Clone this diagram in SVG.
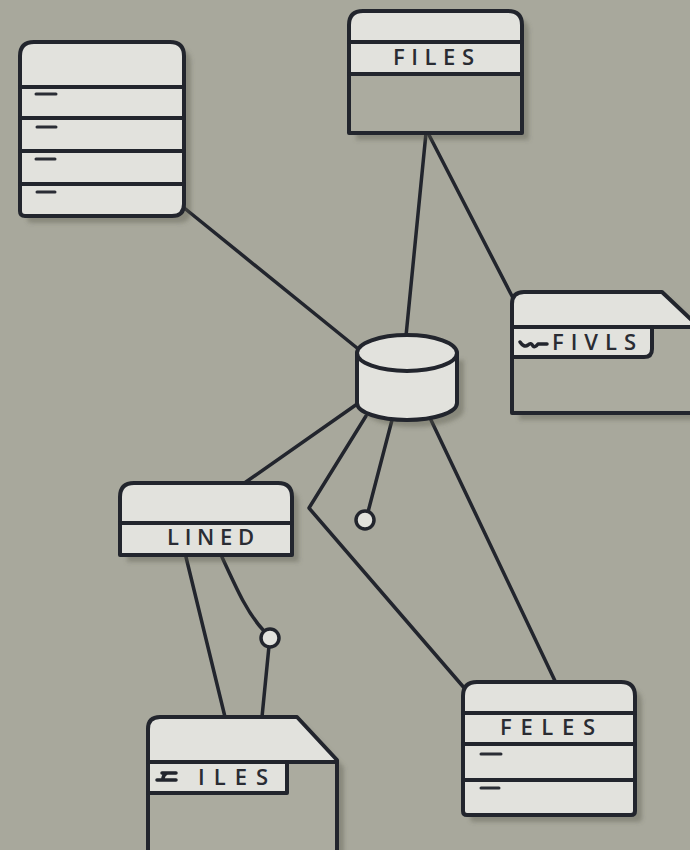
<svg xmlns="http://www.w3.org/2000/svg" width="690" height="850" viewBox="0 0 690 850">
  <defs>
    <filter id="shadow" x="-10%" y="-10%" width="130%" height="130%">
      <feDropShadow dx="7" dy="7" stdDeviation="2" flood-color="#56564c" flood-opacity="0.4"/>
    </filter>
    <style>
      .bg { fill: #a8a89c; }
      .light { fill: #e2e2dd; }
      .panel { fill: #abab9f; }
      .edge { fill: none; stroke: #22252d; stroke-width: 4; stroke-linejoin: round; stroke-linecap: round; }
      .wire { fill: none; stroke: #22252d; stroke-width: 3.5; stroke-linecap: round; stroke-linejoin: round; }
      .dot { fill: #e2e2dd; stroke: #22252d; stroke-width: 3.5; }
      .dash { stroke: #2a2d35; stroke-width: 3; stroke-linecap: round; }
      .label { font-family: "Open Sans", "Liberation Sans", sans-serif; font-size: 22px; font-weight: 600; fill: #2a2c33; }
    </style>
  </defs>

  <rect class="bg" x="0" y="0" width="690" height="850"/>

  <!-- connectors -->
  <g id="connectors">
    <line class="wire" x1="183" y1="207" x2="362" y2="352"/>
    <line class="wire" x1="426" y1="133" x2="406" y2="336"/>
    <line class="wire" x1="428" y1="133" x2="513" y2="298"/>
    <line class="wire" x1="360" y1="402" x2="243" y2="484"/>
    <polyline class="wire" points="366,416 309,508 466,690"/>
    <line class="wire" x1="392" y1="420" x2="368" y2="512"/>
    <line class="wire" x1="431" y1="420" x2="556" y2="683"/>
    <line class="wire" x1="186" y1="557" x2="225" y2="717"/>
    <path class="wire" d="M222,557 C238,592 248,614 264,631"/>
    <line class="wire" x1="269" y1="646" x2="262" y2="717"/>
    <circle class="dot" cx="365" cy="520" r="9"/>
    <circle class="dot" cx="270" cy="638" r="9"/>
  </g>

  <!-- list table, top left -->
  <g id="list-table">
    <path class="light" filter="url(#shadow)" d="M20,56 Q20,42 34,42 L170,42 Q184,42 184,56 L184,204 Q184,216 172,216 L25,216 Q20,216 20,211 Z"/>
    <path class="edge" d="M20,56 Q20,42 34,42 L170,42 Q184,42 184,56 L184,204 Q184,216 172,216 L25,216 Q20,216 20,211 Z"/>
    <line class="edge" x1="20" y1="87" x2="184" y2="87"/>
    <line class="edge" x1="20" y1="118" x2="184" y2="118"/>
    <line class="edge" x1="20" y1="151" x2="184" y2="151"/>
    <line class="edge" x1="20" y1="184" x2="184" y2="184"/>
    <line class="dash" x1="36" y1="94" x2="56" y2="94"/>
    <line class="dash" x1="37" y1="127" x2="56" y2="127"/>
    <line class="dash" x1="36" y1="159" x2="55" y2="159"/>
    <line class="dash" x1="37" y1="192" x2="55" y2="192"/>
  </g>

  <!-- FILES table, top -->
  <g id="files-table">
    <path class="panel" filter="url(#shadow)" d="M349,133 L349,25 Q349,11 363,11 L508,11 Q522,11 522,25 L522,133 Z"/>
    <path class="light" d="M349,74 L349,25 Q349,11 363,11 L508,11 Q522,11 522,25 L522,74 Z"/>
    <path class="edge" d="M349,133 L349,25 Q349,11 363,11 L508,11 Q522,11 522,25 L522,133 Z"/>
    <line class="edge" x1="349" y1="42" x2="522" y2="42"/>
    <line class="edge" x1="349" y1="74" x2="522" y2="74"/>
    <text class="label" x="393" y="65" textLength="81" lengthAdjust="spacing">FILES</text>
  </g>

  <!-- FIVLS folder, right -->
  <g id="fivls-folder">
    <path class="panel" filter="url(#shadow)" d="M512,304 Q512,292 524,292 L662,292 L700,328 L700,413 L512,413 Z"/>
    <path class="light" d="M512,327 L512,304 Q512,292 524,292 L662,292 L697,327 Z"/>
    <path class="light" d="M512,327 L652,327 L652,349 Q652,357 644,357 L512,357 Z"/>
    <path class="edge" d="M700,413 L512,413 L512,304 Q512,292 524,292 L662,292 L700,328"/>
    <line class="edge" x1="512" y1="327" x2="700" y2="327"/>
    <path class="edge" d="M652,327 L652,349 Q652,357 644,357 L512,357"/>
    <path class="wire" stroke-width="2.5" d="M520,342 Q524,348 528,345 Q531,342 533,346 Q535,348 538,344 L547,344"/>
    <text class="label" x="552" y="350" textLength="84" lengthAdjust="spacing">FIVLS</text>
  </g>

  <!-- central store -->
  <g id="store">
    <path class="light" filter="url(#shadow)" d="M357,353 L357,403 A50,17 0 0 0 457,403 L457,353 Z"/>
    <path class="edge" d="M357,353 L357,403 A50,17 0 0 0 457,403 L457,353"/>
    <ellipse class="light" cx="407" cy="353" rx="50" ry="18"/>
    <ellipse class="edge" cx="407" cy="353" rx="50" ry="18"/>
  </g>

  <!-- LINED table -->
  <g id="lined-table">
    <path class="light" filter="url(#shadow)" d="M120,555 L120,497 Q120,483 134,483 L278,483 Q292,483 292,497 L292,555 Z"/>
    <path class="edge" d="M120,555 L120,497 Q120,483 134,483 L278,483 Q292,483 292,497 L292,555 Z"/>
    <line class="edge" x1="120" y1="523" x2="292" y2="523"/>
    <text class="label" x="167" y="545" textLength="87" lengthAdjust="spacing">LINED</text>
  </g>

  <!-- ILES folder, bottom -->
  <g id="iles-folder">
    <path class="panel" filter="url(#shadow)" d="M148,729 Q148,717 160,717 L297,717 L337,760 L337,860 L148,860 Z"/>
    <path class="light" d="M148,762 L148,729 Q148,717 160,717 L297,717 L337,760 L337,762 Z"/>
    <rect class="light" x="148" y="762" width="139" height="31"/>
    <path class="edge" d="M148,860 L148,729 Q148,717 160,717 L297,717 L337,760 L337,860"/>
    <line class="edge" x1="148" y1="762" x2="337" y2="762"/>
    <path class="edge" d="M287,762 L287,793 L148,793"/>
    <path class="wire" stroke-width="2.5" d="M157,780 L176,780 M162,773 L176,773 M167,773 Q164,774 163,778 L163,780"/>
    <text class="label" x="198" y="785" textLength="70" lengthAdjust="spacing">ILES</text>
  </g>

  <!-- FELES table -->
  <g id="feles-table">
    <path class="light" filter="url(#shadow)" d="M463,811 L463,696 Q463,682 477,682 L621,682 Q635,682 635,696 L635,811 Q635,815 631,815 L467,815 Q463,815 463,811 Z"/>
    <path class="edge" d="M463,811 L463,696 Q463,682 477,682 L621,682 Q635,682 635,696 L635,811 Q635,815 631,815 L467,815 Q463,815 463,811 Z"/>
    <line class="edge" x1="463" y1="713" x2="635" y2="713"/>
    <line class="edge" x1="463" y1="744" x2="635" y2="744"/>
    <line class="edge" x1="463" y1="780" x2="635" y2="780"/>
    <line class="dash" x1="481" y1="754" x2="501" y2="754"/>
    <line class="dash" x1="481" y1="788" x2="499" y2="788"/>
    <text class="label" x="500" y="735" textLength="95" lengthAdjust="spacing">FELES</text>
  </g>
</svg>
